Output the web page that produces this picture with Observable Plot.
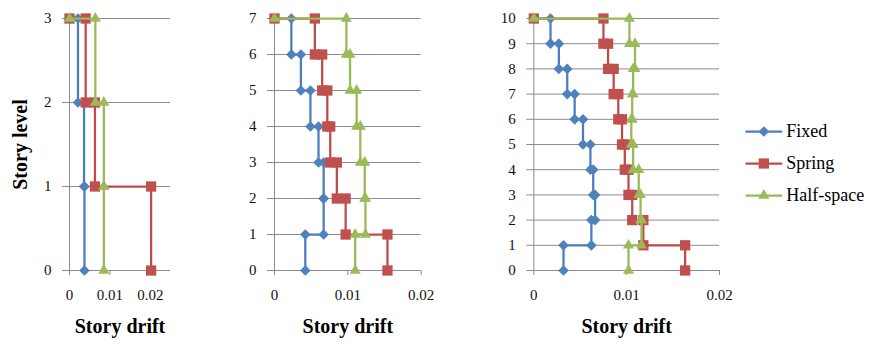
<!DOCTYPE html>
<html><head><meta charset="utf-8">
<script src="https://cdn.jsdelivr.net/npm/d3@7"></script>
<script src="https://cdn.jsdelivr.net/npm/@observablehq/plot@0.6"></script>
<style>
body{margin:0;background:#fff;}
#chart{position:relative;width:870px;height:345px;font-family:"Liberation Serif","Times New Roman",serif;}
#chart svg{position:absolute;top:0;}
#chart svg text{font-family:"Liberation Serif","Times New Roman",serif;}
</style></head><body><div id="chart"></div>
<script>
const seriesNames = ["Fixed", "Spring", "Half-space"];
const lineColors = ["#4A7EBB", "#BE4B48", "#98B954"];
const markerFills = ["#4F81BD", "#C0504D", "#9BBB59"];
const markerSymbols = ["diamond2", "square", "triangle"];
const markerRadii = [4.8, 5.8, 4.1];
const driftTicks = [0, 0.01, 0.02];
const xTitle = "Story drift";
const yTitle = "Story level";
const serif = "Liberation Serif";

// inter-story drift, story 1 (bottom) first
const fixed3 = [0.0037, 0.0036, 0.0021];
const spring3 = [0.0202, 0.0063, 0.0040];
const half3 = [0.0085, 0.0085, 0.0064];

const fixed7 = [0.0042, 0.0067, 0.0067, 0.0060, 0.0049, 0.0036, 0.0023];
const spring7 = [0.0154, 0.0097, 0.0085, 0.0076, 0.0072, 0.0065, 0.0055];
const half7 = [0.0110, 0.0124, 0.0123, 0.0117, 0.0112, 0.0103, 0.0098];

const fixed10 = [0.0032, 0.0062, 0.0066, 0.0064, 0.0061, 0.0053, 0.0044, 0.0036, 0.0027, 0.0018];
const spring10 = [0.0163, 0.0118, 0.0106, 0.0102, 0.0098, 0.0095, 0.0091, 0.0086, 0.0080, 0.0075];
const half10 = [0.0102, 0.0116, 0.0115, 0.0113, 0.0107, 0.0105, 0.0106, 0.0107, 0.0109, 0.0103];

function profile(drifts) {
  const pts = [];
  drifts.forEach((d, i) => { pts.push({x: d, y: i}); pts.push({x: d, y: i + 1}); });
  pts.push({x: 0, y: drifts.length});
  return pts;
}

const chart = document.getElementById("chart");

function panel({left, width, ml, mr, xmax, series, showY}) {
  const levels = series[0].length;
  const marks = [
    Plot.gridY(d3.range(levels + 1), {stroke: "#8c8c8c", strokeOpacity: 1}),
    Plot.ruleX([0], {stroke: "#8c8c8c"}),
    Plot.axisY(d3.range(levels + 1), {tickSize: 7, tickPadding: 11, stroke: "#8c8c8c", fill: "#111", fontSize: 15, fontFamily: serif, label: null, tickFormat: d => String(d)}),
    Plot.axisX(driftTicks, {tickSize: 5, tickPadding: 14, stroke: "#8c8c8c", fill: "#111", fontSize: 15, fontFamily: serif, label: null, tickFormat: d => String(d)}),
    Plot.text([xTitle], {frameAnchor: "bottom", dy: 62, textAnchor: "middle", fontSize: 20, fontWeight: "bold", fontFamily: serif, fill: "#000"})
  ];
  if (showY) marks.push(Plot.text([yTitle], {frameAnchor: "left", dx: -49, rotate: -90, textAnchor: "middle", fontSize: 20, fontWeight: "bold", fontFamily: serif, fill: "#000"}));
  series.forEach((drifts, k) => {
    const data = profile(drifts);
    marks.push(Plot.line(data, {x: "x", y: "y", stroke: lineColors[k], strokeWidth: 2.25}));
    marks.push(Plot.dot(data, {x: "x", y: "y", symbol: markerSymbols[k], r: markerRadii[k], fill: markerFills[k], stroke: "none"}));
  });
  const svg = Plot.plot({
    width, height: 345,
    marginLeft: ml, marginRight: mr, marginTop: 18, marginBottom: 75,
    x: {domain: [0, xmax]},
    y: {domain: [0, levels]},
    style: {fontFamily: "Liberation Serif, serif", background: "transparent", overflow: "visible"},
    marks
  });
  svg.style.left = left + "px";
  chart.appendChild(svg);
}

panel({left: 0, width: 180, ml: 69, mr: 10, xmax: 0.025, series: [fixed3, spring3, half3], showY: true});
panel({left: 200, width: 230, ml: 74, mr: 9.3, xmax: 0.02, series: [fixed7, spring7, half7]});
panel({left: 460, width: 270, ml: 73.3, mr: 11, xmax: 0.02, series: [fixed10, spring10, half10]});

// legend
const legendMarks = [];
seriesNames.forEach((name, k) => {
  legendMarks.push(Plot.link([name], {x1: 0, x2: 1, y1: d => d, y2: d => d, stroke: lineColors[k], strokeWidth: 2.25}));
  legendMarks.push(Plot.dot([name], {x: 0.5, y: d => d, symbol: markerSymbols[k], r: markerRadii[k], fill: markerFills[k], stroke: "none"}));
  legendMarks.push(Plot.text([name], {x: 1, y: d => d, dx: 4, textAnchor: "start", fontSize: 18, fontFamily: serif, fill: "#000"}));
});
const leg = Plot.plot({
  width: 130, height: 345, margin: 0,
  x: {domain: [0, 1], range: [5, 41.7], axis: null},
  y: {type: "point", domain: seriesNames, range: [130.7, 195], padding: 0, axis: null},
  style: {fontFamily: "Liberation Serif, serif", background: "transparent", overflow: "visible"},
  marks: legendMarks
});
leg.style.left = "740px";
chart.appendChild(leg);
</script></body></html>
